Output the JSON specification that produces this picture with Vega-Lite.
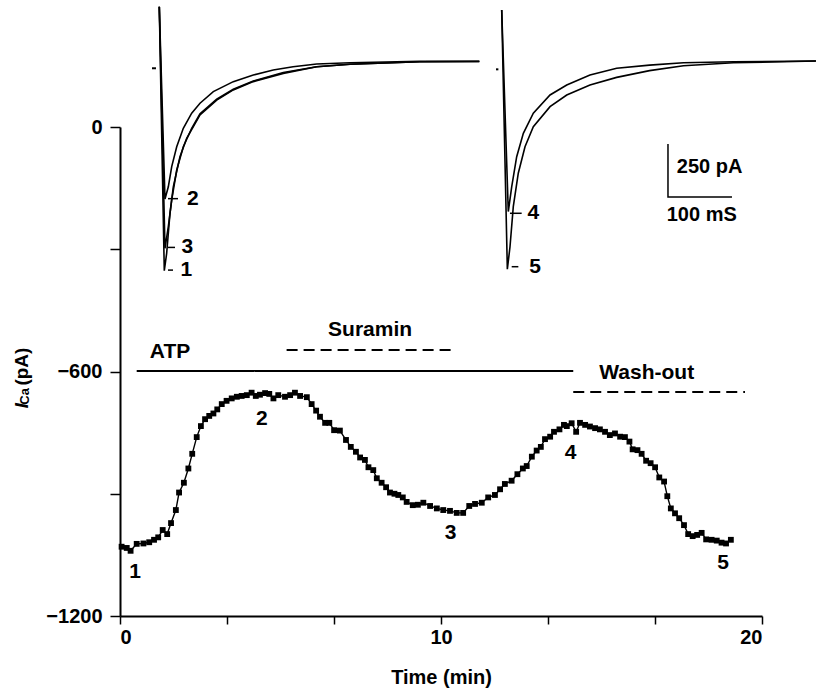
{
  "$schema": "https://vega.github.io/schema/vega-lite/v6.json",
  "width": 642,
  "height": 489,
  "autosize": {"type": "none"},
  "padding": {"left": 120, "top": 127, "right": 54, "bottom": 74},
  "background": "white",
  "config": {
    "view": {"stroke": null},
    "font": "Liberation Sans",
    "text": {"font": "Liberation Sans", "fontWeight": "bold", "color": "black"}
  },
  "datasets": {
    "series": [
      {"t":0.05,"I":-1030},{"t":0.21,"I":-1033},{"t":0.33,"I":-1040},{"t":0.52,"I":-1023},{"t":0.73,"I":-1022},{"t":0.91,"I":-1019},{"t":1.06,"I":-1013},{"t":1.19,"I":-1007},{"t":1.33,"I":-989},{"t":1.47,"I":-999},{"t":1.59,"I":-972},{"t":1.74,"I":-940},{"t":1.84,"I":-897},{"t":1.99,"I":-873},{"t":2.13,"I":-838},{"t":2.25,"I":-802},{"t":2.39,"I":-761},{"t":2.52,"I":-734},{"t":2.65,"I":-717},{"t":2.78,"I":-709},{"t":2.91,"I":-703},{"t":3.03,"I":-693},{"t":3.17,"I":-680},{"t":3.32,"I":-672},{"t":3.48,"I":-666},{"t":3.64,"I":-662},{"t":3.79,"I":-660},{"t":3.95,"I":-658},{"t":4.10,"I":-652},{"t":4.23,"I":-660},{"t":4.36,"I":-657},{"t":4.52,"I":-653},{"t":4.65,"I":-655},{"t":4.78,"I":-666},{"t":4.93,"I":-658},{"t":5.14,"I":-662},{"t":5.30,"I":-658},{"t":5.45,"I":-652},{"t":5.61,"I":-660},{"t":5.82,"I":-663},{"t":5.97,"I":-680},{"t":6.11,"I":-696},{"t":6.23,"I":-711},{"t":6.39,"I":-726},{"t":6.52,"I":-726},{"t":6.67,"I":-744},{"t":6.85,"I":-745},{"t":7.04,"I":-768},{"t":7.19,"I":-785},{"t":7.35,"I":-797},{"t":7.48,"I":-811},{"t":7.63,"I":-817},{"t":7.74,"I":-835},{"t":7.89,"I":-842},{"t":8.00,"I":-862},{"t":8.15,"I":-873},{"t":8.29,"I":-884},{"t":8.41,"I":-897},{"t":8.55,"I":-900},{"t":8.67,"I":-903},{"t":8.81,"I":-909},{"t":8.93,"I":-920},{"t":9.12,"I":-928},{"t":9.28,"I":-927},{"t":9.45,"I":-922},{"t":9.66,"I":-930},{"t":9.87,"I":-936},{"t":10.07,"I":-940},{"t":10.28,"I":-942},{"t":10.49,"I":-947},{"t":10.69,"I":-947},{"t":10.88,"I":-930},{"t":11.06,"I":-925},{"t":11.27,"I":-922},{"t":11.47,"I":-909},{"t":11.68,"I":-903},{"t":11.84,"I":-889},{"t":11.99,"I":-876},{"t":12.20,"I":-868},{"t":12.38,"I":-852},{"t":12.55,"I":-838},{"t":12.67,"I":-832},{"t":12.83,"I":-809},{"t":12.98,"I":-794},{"t":13.11,"I":-785},{"t":13.24,"I":-766},{"t":13.40,"I":-760},{"t":13.52,"I":-748},{"t":13.69,"I":-742},{"t":13.83,"I":-731},{"t":13.92,"I":-734},{"t":14.07,"I":-727},{"t":14.21,"I":-748},{"t":14.33,"I":-726},{"t":14.49,"I":-731},{"t":14.64,"I":-735},{"t":14.80,"I":-739},{"t":14.95,"I":-742},{"t":15.11,"I":-748},{"t":15.26,"I":-756},{"t":15.42,"I":-752},{"t":15.58,"I":-760},{"t":15.73,"I":-761},{"t":15.87,"I":-772},{"t":15.97,"I":-791},{"t":16.12,"I":-793},{"t":16.25,"I":-802},{"t":16.39,"I":-819},{"t":16.53,"I":-825},{"t":16.67,"I":-835},{"t":16.80,"I":-860},{"t":16.95,"I":-870},{"t":17.05,"I":-906},{"t":17.16,"I":-936},{"t":17.29,"I":-948},{"t":17.42,"I":-960},{"t":17.57,"I":-977},{"t":17.70,"I":-999},{"t":17.84,"I":-1004},{"t":17.98,"I":-1001},{"t":18.12,"I":-996},{"t":18.26,"I":-1012},{"t":18.43,"I":-1013},{"t":18.59,"I":-1015},{"t":18.74,"I":-1020},{"t":18.88,"I":-1022},{"t":19.03,"I":-1013}
    ],
    "agents": [
      {"agent":"ATP","t":0.52,"t2":14.12,"I":-599},
      {"agent":"Suramin","t":5.19,"t2":10.33,"I":-547},
      {"agent":"Wash-out","t":14.12,"t2":19.47,"I":-650}
    ],
    "agentLabels": [
      {"label":"ATP","t":1.56,"I":-552},
      {"label":"Suramin","t":7.79,"I":-498},
      {"label":"Wash-out","t":16.41,"I":-604}
    ],
    "pointLabels": [
      {"label":"1","t":0.47,"I":-1092},
      {"label":"2","t":4.42,"I":-717},
      {"label":"3","t":10.30,"I":-996},
      {"label":"4","t":14.04,"I":-800},
      {"label":"5","t":18.79,"I":-1070}
    ],
    "traceA": [
      {"trace":"1","t":0,"I":258},{"trace":"1","t":7.8,"I":-987},{"trace":"1","t":11.5,"I":-905},{"trace":"1","t":16.7,"I":-716},{"trace":"1","t":21.9,"I":-591},{"trace":"1","t":32.3,"I":-449},{"trace":"1","t":42.8,"I":-362},{"trace":"1","t":63.6,"I":-252},{"trace":"1","t":89.7,"I":-182},{"trace":"1","t":115.6,"I":-134},{"trace":"1","t":146.9,"I":-95},{"trace":"1","t":193.8,"I":-56},{"trace":"1","t":245.9,"I":-25},{"trace":"1","t":298,"I":-13},{"trace":"1","t":407,"I":-1},{"trace":"1","t":500,"I":0},
      {"trace":"2","t":0,"I":258},{"trace":"2","t":8.9,"I":-649},{"trace":"2","t":14.1,"I":-591},{"trace":"2","t":19.4,"I":-496},{"trace":"2","t":27.2,"I":-402},{"trace":"2","t":37.5,"I":-315},{"trace":"2","t":50.6,"I":-244},{"trace":"2","t":63.6,"I":-197},{"trace":"2","t":84.4,"I":-142},{"trace":"2","t":115.6,"I":-95},{"trace":"2","t":146.9,"I":-64},{"trace":"2","t":178,"I":-40},{"trace":"2","t":209,"I":-25},{"trace":"2","t":246,"I":-12},{"trace":"2","t":298,"I":-6},{"trace":"2","t":407,"I":1},{"trace":"2","t":500,"I":1},
      {"trace":"3","t":0,"I":258},{"trace":"3","t":8.9,"I":-881},{"trace":"3","t":14.1,"I":-779},{"trace":"3","t":19.4,"I":-653},{"trace":"3","t":27.2,"I":-512},{"trace":"3","t":37.5,"I":-402},{"trace":"3","t":50.6,"I":-315},{"trace":"3","t":63.6,"I":-247},{"trace":"3","t":89.7,"I":-178},{"trace":"3","t":115.6,"I":-131},{"trace":"3","t":146.9,"I":-92},{"trace":"3","t":193.8,"I":-52},{"trace":"3","t":245.9,"I":-25},{"trace":"3","t":298,"I":-13},{"trace":"3","t":407,"I":-1},{"trace":"3","t":500,"I":0}
    ],
    "traceB": [
      {"trace":"4","t":0,"I":243},{"trace":"4","t":10.3,"I":-708},{"trace":"4","t":15.6,"I":-591},{"trace":"4","t":23.4,"I":-449},{"trace":"4","t":33.8,"I":-339},{"trace":"4","t":49.4,"I":-244},{"trace":"4","t":75.5,"I":-158},{"trace":"4","t":101.6,"I":-111},{"trace":"4","t":137.9,"I":-64},{"trace":"4","t":179.6,"I":-32},{"trace":"4","t":231,"I":-17},{"trace":"4","t":284,"I":-6},{"trace":"4","t":362,"I":-1},{"trace":"4","t":491,"I":2},
      {"trace":"5","t":0,"I":243},{"trace":"5","t":8.8,"I":-980},{"trace":"5","t":12.97,"I":-874},{"trace":"5","t":18.1,"I":-685},{"trace":"5","t":25.9,"I":-527},{"trace":"5","t":36.4,"I":-402},{"trace":"5","t":49.4,"I":-308},{"trace":"5","t":75.5,"I":-213},{"trace":"5","t":101.6,"I":-158},{"trace":"5","t":137.9,"I":-111},{"trace":"5","t":179.6,"I":-75},{"trace":"5","t":231,"I":-43},{"trace":"5","t":284,"I":-20},{"trace":"5","t":362,"I":-6},{"trace":"5","t":491,"I":2}
    ],
    "labelsA": [
      {"label":"2","t":52.6,"I":-647,"m0":13.6,"m1":29.2},
      {"label":"3","t":43.9,"I":-877,"m0":13.6,"m1":24.5},
      {"label":"1","t":42.4,"I":-984,"m0":13.6,"m1":21.4}
    ],
    "labelsB": [
      {"label":"4","t":49.4,"I":-716,"m0":12.9,"m1":31.2},
      {"label":"5","t":52.2,"I":-968,"m0":15.6,"m1":26}
    ]
  },
  "layer": [
    {
      "encoding": {
        "x": {"field":"t","type":"quantitative","scale":{"domain":[0,20],"nice":false,"zero":false},
          "axis":{"values":[0,3.3333,6.6667,10,13.3333,16.6667,20],"labelExpr":"datum.value % 10 === 0 ? datum.label : ''","grid":false,"domainColor":"black","domainWidth":2,"tickColor":"black","tickWidth":1.5,"tickSize":8,"labelFont":"Liberation Sans","labelFontWeight":"bold","labelFontSize":20,"labelColor":"black","labelPadding":3,"title":"Time (min)","titleFont":"Liberation Sans","titleFontSize":20,"titleFontWeight":"bold","titleColor":"black","titlePadding":20}},
        "y": {"field":"I","type":"quantitative","scale":{"domain":[-1200,0],"nice":false,"zero":false},
          "axis":{"values":[-1200,-900,-600,-300,0],"format":"d","labelExpr":"datum.value % 600 === 0 ? datum.label : ''","grid":false,"domainColor":"black","domainWidth":2,"tickColor":"black","tickWidth":1.5,"tickSize":10,"labelFont":"Liberation Sans","labelFontWeight":"bold","labelFontSize":20,"labelColor":"black","labelPadding":8,"title":null}}
      },
      "layer": [
        {"data":{"name":"series"},"mark":{"type":"line","color":"black","strokeWidth":1.4}},
        {"data":{"name":"series"},"mark":{"type":"point","shape":"square","filled":true,"color":"black","size":34,"opacity":1}},
        {"data":{"name":"agents"},"mark":{"type":"rule","color":"black","strokeWidth":2},
          "encoding":{"x2":{"field":"t2"},"strokeDash":{"field":"agent","type":"nominal","scale":{"domain":["ATP","Suramin","Wash-out"],"range":[[1,0],[11,6],[11,6]]},"legend":null}}},
        {"data":{"name":"agentLabels"},"mark":{"type":"text","fontSize":21,"align":"center","baseline":"middle"},"encoding":{"text":{"field":"label"}}},
        {"data":{"name":"pointLabels"},"mark":{"type":"text","fontSize":21,"align":"center","baseline":"middle"},"encoding":{"text":{"field":"label"}}},
        {"data":{"values":[{"t":-3.06,"I":-684}]},"mark":{"type":"text","text":"I","fontSize":19,"fontStyle":"italic","angle":270,"align":"center","baseline":"middle","clip":false}},
        {"data":{"values":[{"t":-2.96,"I":-661}]},"mark":{"type":"text","text":"Ca","fontSize":13,"angle":270,"align":"center","baseline":"middle","clip":false}},
        {"data":{"values":[{"t":-3.06,"I":-588}]},"mark":{"type":"text","text":"(pA)","fontSize":19,"angle":270,"align":"center","baseline":"middle","clip":false}}
      ]
    },
    {
      "data": {"name":"traceA"},
      "encoding": {
        "x": {"field":"t","type":"quantitative","scale":{"domain":[-61.4,941.7],"nice":false,"zero":false},"axis":null},
        "y": {"field":"I","type":"quantitative","scale":{"domain":[-2615.6,-309],"nice":false,"zero":false},"axis":null}
      },
      "layer": [
        {"mark":{"type":"line","color":"black","strokeWidth":1.6,"clip":false},"encoding":{"detail":{"field":"trace"},"order":{"field":"t","type":"quantitative"}}},
        {"data":{"values":[{"t":-11.4,"t2":-5.2,"I":-32}]},"mark":{"type":"rule","color":"black","strokeWidth":2,"clip":false},"encoding":{"x2":{"field":"t2"}}},
        {"data":{"name":"labelsA"},"mark":{"type":"rule","color":"black","strokeWidth":1.5,"clip":false},"encoding":{"x":{"field":"m0","type":"quantitative"},"x2":{"field":"m1"}}},
        {"data":{"name":"labelsA"},"mark":{"type":"text","fontSize":21,"align":"center","baseline":"middle","clip":false},"encoding":{"text":{"field":"label"}}}
      ]
    },
    {
      "data": {"name":"traceB"},
      "encoding": {
        "x": {"field":"t","type":"quantitative","scale":{"domain":[-596.4,406.7],"nice":false,"zero":false},"axis":null},
        "y": {"field":"I","type":"quantitative","scale":{"domain":[-2615.6,-309],"nice":false,"zero":false},"axis":null}
      },
      "layer": [
        {"mark":{"type":"line","color":"black","strokeWidth":1.6,"clip":false},"encoding":{"detail":{"field":"trace"},"order":{"field":"t","type":"quantitative"}}},
        {"data":{"values":[{"t":-8.9,"t2":-5.2,"I":-37}]},"mark":{"type":"rule","color":"black","strokeWidth":2,"clip":false},"encoding":{"x2":{"field":"t2"}}},
        {"data":{"name":"labelsB"},"mark":{"type":"rule","color":"black","strokeWidth":1.5,"clip":false},"encoding":{"x":{"field":"m0","type":"quantitative"},"x2":{"field":"m1"}}},
        {"data":{"name":"labelsB"},"mark":{"type":"text","fontSize":21,"align":"center","baseline":"middle","clip":false},"encoding":{"text":{"field":"label"}}},
        {"data":{"values":[{"t":259.8,"I":-389},{"t":259.8,"I":-639},{"t":359.8,"I":-639}]},"mark":{"type":"line","color":"black","strokeWidth":1.5,"clip":false},"encoding":{"order":{"field":"t","type":"quantitative"}}},
        {"data":{"values":[{"label":"250 pA","t":273.6,"I":-496},{"label":"100 mS","t":257.8,"I":-724}]},"mark":{"type":"text","fontSize":20,"align":"left","baseline":"middle","clip":false},"encoding":{"text":{"field":"label"}}}
      ]
    }
  ],
  "resolve": {"scale": {"x": "independent", "y": "independent"}, "axis": {"x": "independent", "y": "independent"}}
}
